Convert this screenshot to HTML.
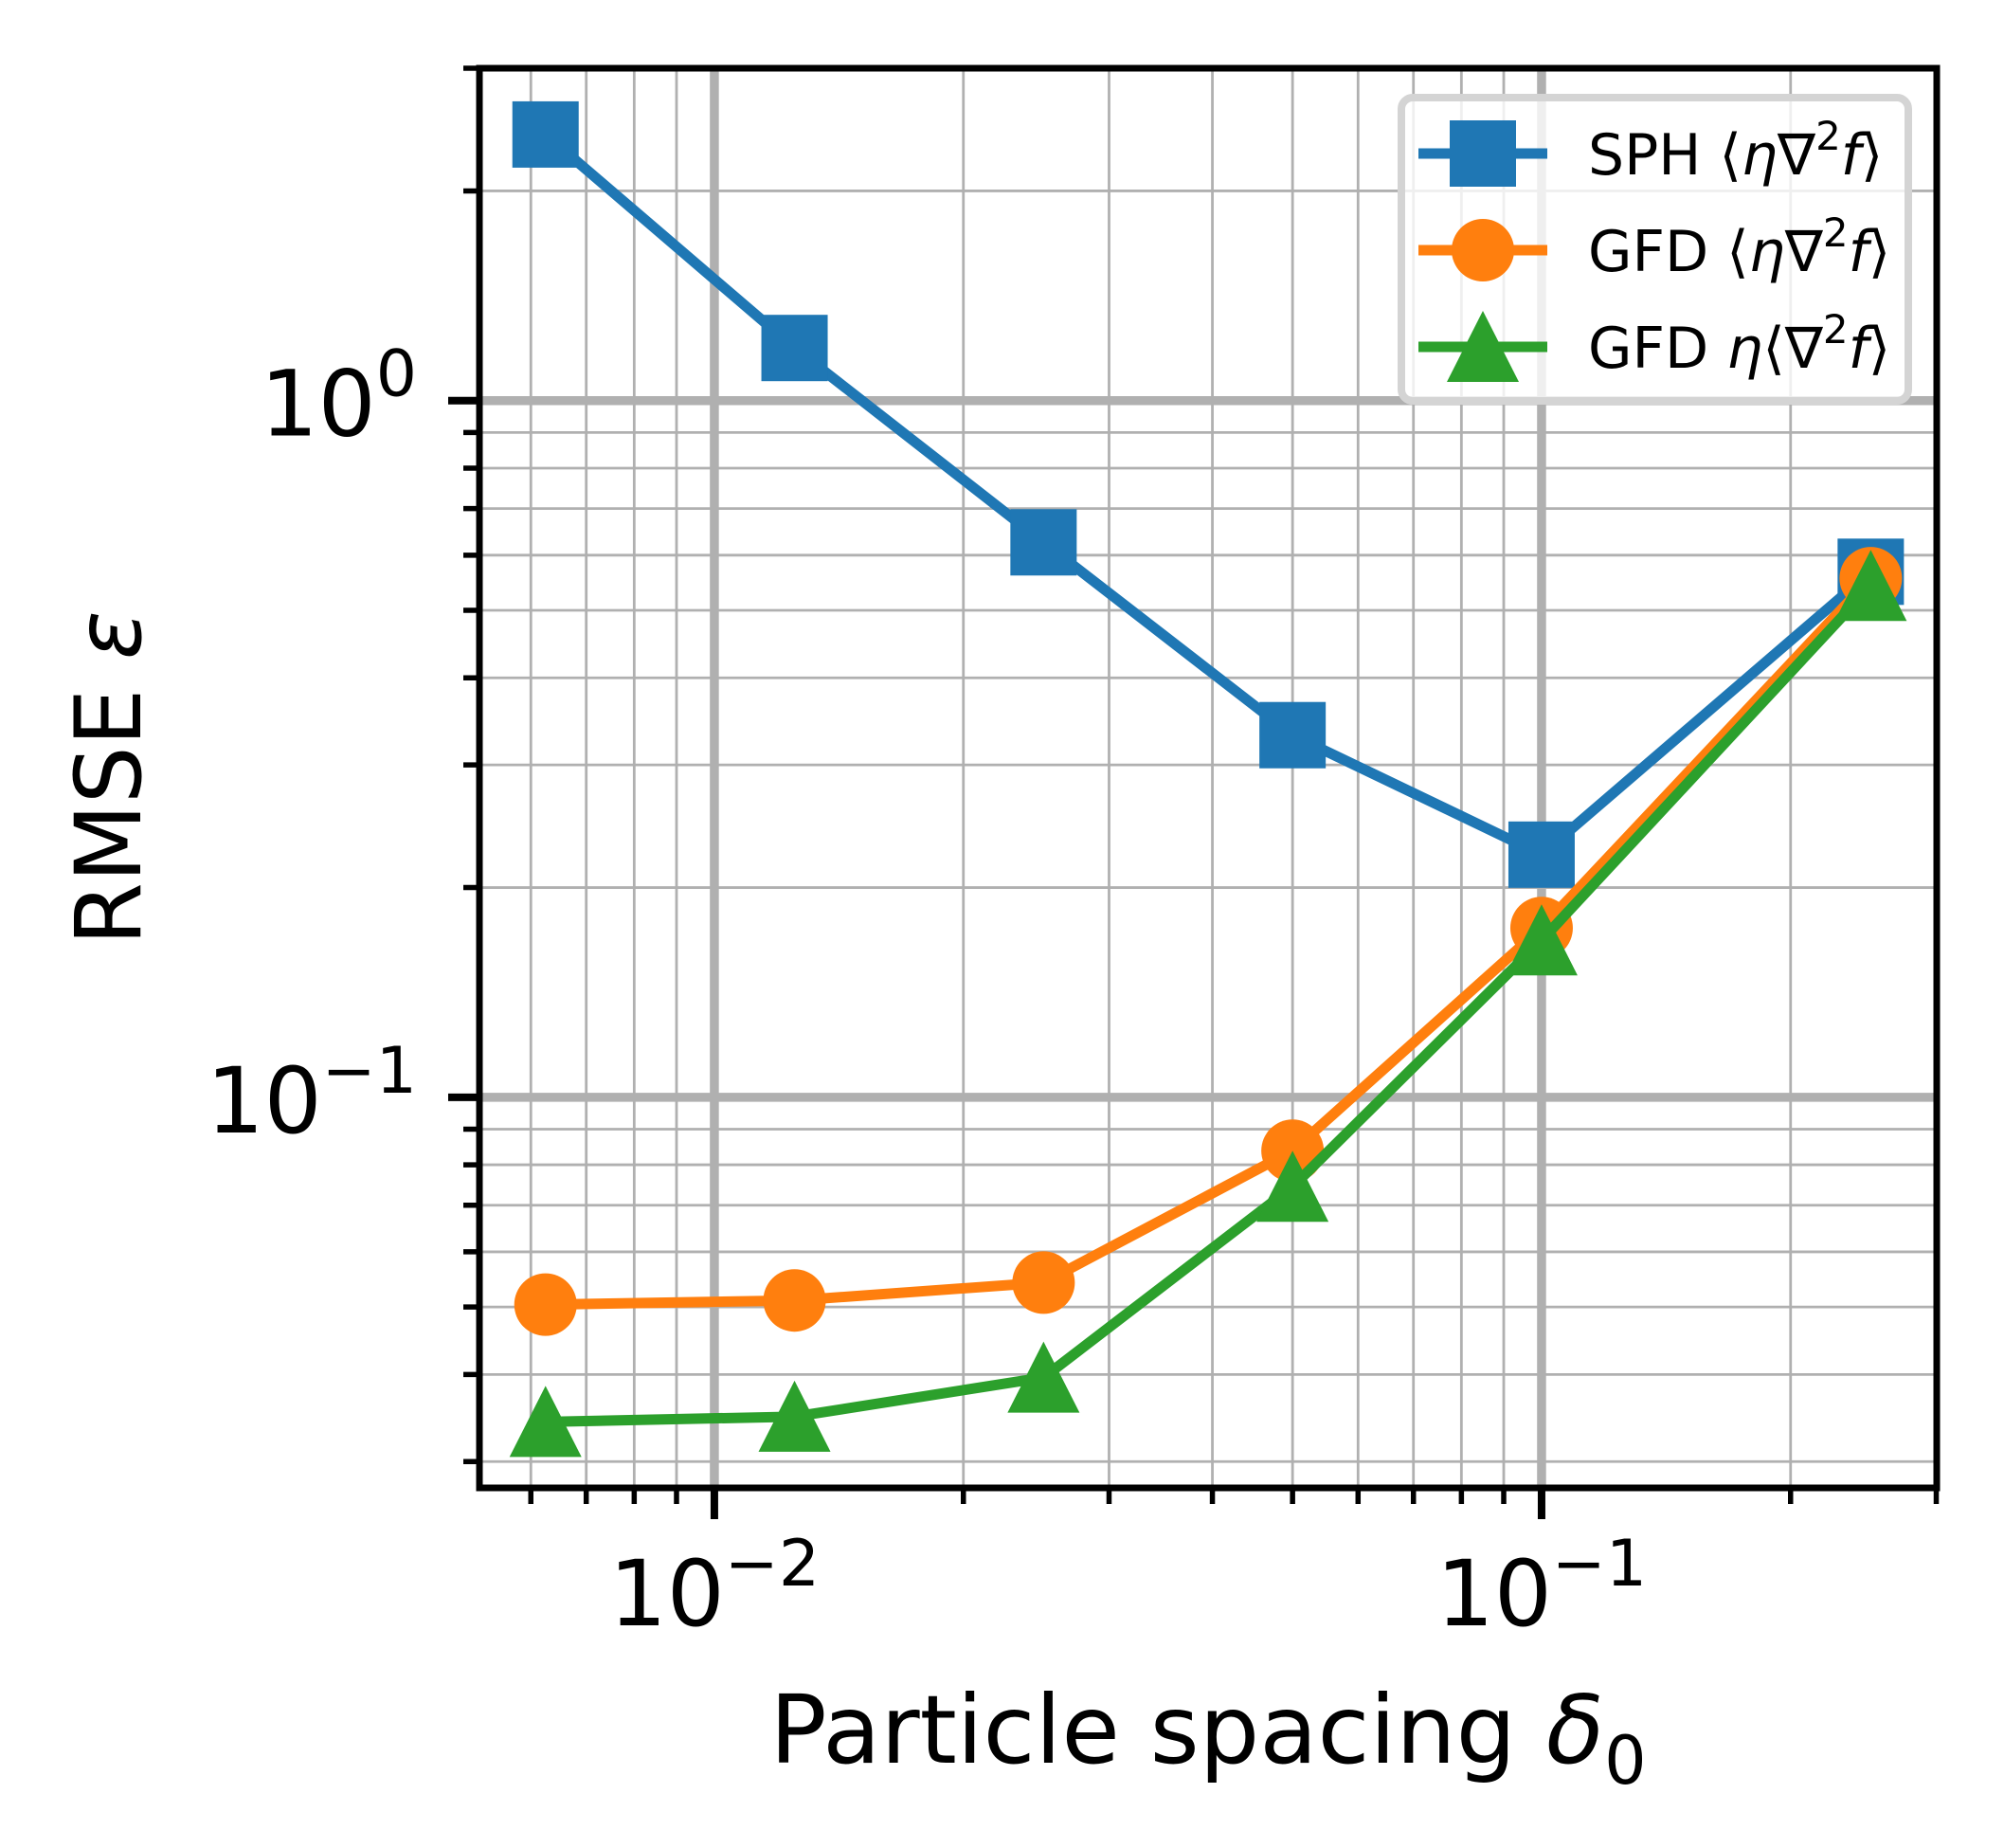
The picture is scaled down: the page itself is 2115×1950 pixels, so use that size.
<!DOCTYPE html>
<html><head><meta charset="utf-8"><style>
html,body{margin:0;padding:0;background:#fff;}
svg{display:block;}
text{font-family:"DejaVu Sans","Liberation Sans",sans-serif;fill:#000;}
</style></head><body>
<svg id="chart" width="2115" height="1950" viewBox="0 0 2115 1950" xmlns="http://www.w3.org/2000/svg">
<rect x="0" y="0" width="2115" height="1950" fill="#fff"/>
<g id="grid"></g>
<g id="series"></g>
<g id="axes"></g>
<g id="legend"></g>
</svg>
<script>
const xValues = [0.00625, 0.0125, 0.025, 0.05, 0.1, 0.25];
const sphValues = [2.41, 1.19, 0.626, 0.331, 0.223, 0.568];
const gfdOuterValues = [0.0504, 0.0511, 0.0542, 0.0838, 0.175, 0.556];
const gfdInnerValues = [0.0342, 0.0348, 0.0396, 0.0744, 0.168, 0.542];
const xMajorTicks = [0.01, 0.1];
const xMajorLabels = ["\u22122", "\u22121"];
const yMajorTicks = [0.1, 1];
const yMajorLabels = ["\u22121", "0"];
const seriesNames = ["SPH", "GFD", "GFD"];

const NS = "http://www.w3.org/2000/svg";
const L = 506, R = 2044, T = 72, B = 1570;
const xMin = Math.log10(0.0052), xMax = Math.log10(0.3004);
const yMin = Math.log10(0.0275), yMax = Math.log10(3.0);
function xs(v){ return L + (Math.log10(v) - xMin) / (xMax - xMin) * (R - L); }
function ys(v){ return B - (Math.log10(v) - yMin) / (yMax - yMin) * (B - T); }
function mk(tag, attrs, parent){
  const e = document.createElementNS(NS, tag);
  for (const k in attrs) e.setAttribute(k, attrs[k]);
  parent.appendChild(e);
  return e;
}
const grid = document.getElementById('grid');
const axes = document.getElementById('axes');
const series = document.getElementById('series');
const legend = document.getElementById('legend');

const xMinor = [], yMinor = [];
for (let d = -3; d <= -1; d++) for (let m = 2; m <= 9; m++) {
  const v = m * Math.pow(10, d);
  if (Math.log10(v) > xMin && Math.log10(v) < xMax) xMinor.push(v);
  if (Math.log10(v) > yMin && Math.log10(v) < yMax) yMinor.push(v);
}
for (let m = 2; m <= 3; m++) yMinor.push(m);

xMinor.forEach(v => {
  const g = mk('line', {x1: xs(v), x2: xs(v), y1: T, y2: B, stroke: '#b0b0b0', 'stroke-width': 2.8}, grid);
  
  
  const t = mk('line', {x1: xs(v), x2: xs(v), y1: B, y2: B + 17, stroke: '#000', 'stroke-width': 5.5}, axes);
  
  
});
yMinor.forEach(v => {
  const g = mk('line', {x1: L, x2: R, y1: ys(v), y2: ys(v), stroke: '#b0b0b0', 'stroke-width': 2.8}, grid);
  
  
  const t = mk('line', {x1: L - 17, x2: L, y1: ys(v), y2: ys(v), stroke: '#000', 'stroke-width': 5.5}, axes);
  
  
});
xMajorTicks.forEach((v, i) => {
  const g = mk('line', {x1: xs(v), x2: xs(v), y1: T, y2: B, stroke: '#b0b0b0', 'stroke-width': 9.5}, grid);
  
  
  const t = mk('line', {x1: xs(v), x2: xs(v), y1: B, y2: B + 33, stroke: '#000', 'stroke-width': 8}, axes);
  
  
  const tx = mk('text', {x: xs(v), y: 1715, 'font-size': 96, 'text-anchor': 'middle'}, axes);
  
  
  tx.innerHTML = '10<tspan dy="-42" font-size="68">' + xMajorLabels[i] + '</tspan>';
});
yMajorTicks.forEach((v, i) => {
  const g = mk('line', {x1: L, x2: R, y1: ys(v), y2: ys(v), stroke: '#b0b0b0', 'stroke-width': 9.5}, grid);
  
  
  const t = mk('line', {x1: L - 33, x2: L, y1: ys(v), y2: ys(v), stroke: '#000', 'stroke-width': 8}, axes);
  
  
  const tx = mk('text', {x: 440, y: ys(v) + 37, 'font-size': 96, 'text-anchor': 'end'}, axes);
  
  
  tx.innerHTML = '10<tspan dy="-42" font-size="68">' + yMajorLabels[i] + '</tspan>';
});
const frame = mk('rect', {x: L, y: T, width: R - L, height: B - T, fill: 'none', stroke: '#000', 'stroke-width': 7}, axes);



const xl = mk('text', {x: 1275, y: 1860, 'font-size': 100, 'text-anchor': 'middle'}, axes);


xl.innerHTML = 'Particle spacing <tspan font-style="italic">δ</tspan><tspan dy="22" font-size="70">0</tspan>';
const yl = mk('text', {x: 0, y: 0, 'font-size': 96, 'text-anchor': 'middle', transform: 'translate(148,821) rotate(-90)'}, axes);


yl.innerHTML = 'RMSE <tspan font-style="italic">ε</tspan>';

function marker(type, cx, cy, color, parent){
  let e;
  if (type === 'square') e = mk('rect', {x: cx - 35, y: cy - 35, width: 70, height: 70, fill: color}, parent);
  else if (type === 'circle') e = mk('circle', {cx: cx, cy: cy, r: 33, fill: color}, parent);
  else e = mk('polygon', {points: `${cx},${cy - 38} ${cx - 38},${cy + 37} ${cx + 38},${cy + 37}`, fill: color}, parent);
  return e;
}
const defs = [
  {vals: sphValues, color: '#1f77b4', m: 'square', name: 'sph'},
  {vals: gfdOuterValues, color: '#ff7f0e', m: 'circle', name: 'gfd-outer'},
  {vals: gfdInnerValues, color: '#2ca02c', m: 'triangle', name: 'gfd-inner'}
];
defs.forEach(d => {
  const g = mk('g', {}, series);
  
  
  const pts = xValues.map((x, i) => xs(x) + ',' + ys(d.vals[i])).join(' ');
  const pl = mk('polyline', {points: pts, fill: 'none', stroke: d.color, 'stroke-width': 11, 'stroke-linejoin': 'round'}, g);
  
  
  xValues.forEach((x, i) => {
    const m = marker(d.m, xs(x), ys(d.vals[i]), d.color, g);
    
    
  });
});

const lb = mk('rect', {x: 1479, y: 103, width: 535, height: 320, rx: 12, fill: 'rgba(255,255,255,0.8)', stroke: '#d4d4d4', 'stroke-width': 8}, legend);


const labels = [
  '<tspan>SPH </tspan><tspan>⟨</tspan><tspan font-style="italic">η</tspan>∇<tspan dy="-26" font-size="42">2</tspan><tspan dy="26" font-style="italic">f</tspan>⟩',
  '<tspan>GFD </tspan><tspan>⟨</tspan><tspan font-style="italic">η</tspan>∇<tspan dy="-26" font-size="42">2</tspan><tspan dy="26" font-style="italic">f</tspan>⟩',
  '<tspan>GFD </tspan><tspan font-style="italic">η</tspan>⟨∇<tspan dy="-26" font-size="42">2</tspan><tspan dy="26" font-style="italic">f</tspan>⟩'
];
defs.forEach((d, i) => {
  const cy = 162 + i * 102;
  const g = mk('g', {}, legend);
  
  
  mk('line', {x1: 1497, x2: 1633, y1: cy, y2: cy, stroke: d.color, 'stroke-width': 11}, g);
  marker(d.m, 1565, cy, d.color, g);
  const t = mk('text', {x: 1676, y: cy + 22, 'font-size': 60}, g);
  t.innerHTML = labels[i];
});
</script>
</body></html>
